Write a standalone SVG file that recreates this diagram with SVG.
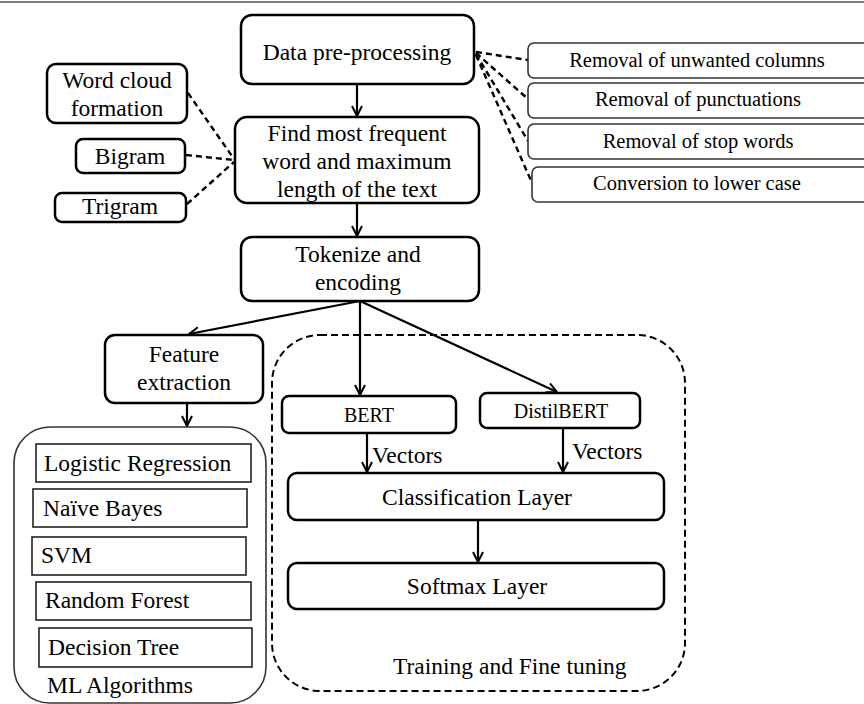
<svg xmlns="http://www.w3.org/2000/svg" width="864" height="704" viewBox="0 0 864 704">
<defs>
<style>
text{font-family:"Liberation Serif","Times New Roman",serif;fill:#000}
.t24{font-size:23.5px}
.t20{font-size:20px}
.t21{font-size:20.5px}
.mid{text-anchor:middle}
.box{fill:#fff;stroke:#000;stroke-width:2.5}
.rbox{fill:#fff;stroke:#333;stroke-width:1.6}
.ml{fill:#fff;stroke:#222;stroke-width:1.6}
.arrow{fill:none;stroke:#000;stroke-width:2.2;marker-end:url(#ah)}
.dash{fill:none;stroke:#000;stroke-width:2.4;stroke-dasharray:6 4}
</style>
<marker id="ah" viewBox="0 0 12 12" refX="11" refY="6" markerWidth="12" markerHeight="12" markerUnits="userSpaceOnUse" orient="auto">
<path d="M1,1 L11,6 L1,11" fill="none" stroke="#000" stroke-width="2"/>
</marker>
</defs>
<rect x="0" y="0" width="864" height="704" fill="#fff"/>
<line x1="0" y1="2" x2="864" y2="2" stroke="#555" stroke-width="1.6"/>

<g id="connectors">
<line class="arrow" x1="357" y1="84" x2="357" y2="116"/>
<line class="arrow" x1="357" y1="203" x2="357" y2="236"/>
<line class="arrow" x1="360" y1="301" x2="189" y2="334"/>
<line class="arrow" x1="360" y1="301" x2="360" y2="395"/>
<line class="arrow" x1="360" y1="301" x2="557" y2="392"/>
<line class="arrow" x1="187" y1="403" x2="187" y2="426"/>
<line class="arrow" x1="367" y1="433" x2="367" y2="472"/>
<line class="arrow" x1="563" y1="428" x2="563" y2="472"/>
<line class="arrow" x1="478" y1="520" x2="478" y2="562"/>
<line class="dash" x1="188" y1="93" x2="234" y2="159"/>
<line class="dash" x1="186" y1="155" x2="234" y2="160"/>
<line class="dash" x1="187" y1="204" x2="234" y2="162"/>
<line class="dash" x1="476" y1="52" x2="528" y2="60"/>
<line class="dash" x1="476" y1="53" x2="528" y2="99"/>
<line class="dash" x1="476" y1="54" x2="528" y2="141"/>
<line class="dash" x1="476" y1="55" x2="532" y2="183"/>
</g>

<g id="data-preprocessing">
<rect class="box" x="241" y="15" width="233" height="69" rx="11"/>
<text class="t24 mid" x="357" y="60">Data pre-processing</text>
</g>
<g id="find-frequent">
<rect class="box" x="235" y="117" width="244" height="86" rx="12"/>
<text class="t24 mid" x="357" y="141">Find most frequent</text>
<text class="t24 mid" x="357" y="169">word and maximum</text>
<text class="t24 mid" x="357" y="197">length of the text</text>
</g>
<g id="word-cloud">
<rect class="box" x="47" y="64" width="140" height="59" rx="9"/>
<text class="t24 mid" x="117" y="88">Word cloud</text>
<text class="t24 mid" x="117" y="116">formation</text>
</g>
<g id="bigram">
<rect class="box" x="76" y="139" width="109" height="34" rx="7"/>
<text class="t24 mid" x="130" y="164">Bigram</text>
</g>
<g id="trigram">
<rect class="box" x="55" y="193" width="131" height="29" rx="7"/>
<text class="t24 mid" x="120" y="214">Trigram</text>
</g>
<g id="removal-columns">
<rect class="rbox" x="528" y="43" width="360" height="35" rx="6"/>
<text class="t21 mid" x="697" y="67">Removal of unwanted columns</text>
</g>
<g id="removal-punctuations">
<rect class="rbox" x="528" y="83" width="360" height="35" rx="6"/>
<text class="t21 mid" x="698" y="106">Removal of punctuations</text>
</g>
<g id="removal-stopwords">
<rect class="rbox" x="528" y="124" width="360" height="35" rx="6"/>
<text class="t21 mid" x="698" y="148">Removal of stop words</text>
</g>
<g id="lower-case">
<rect class="rbox" x="532" y="167" width="360" height="35" rx="6"/>
<text class="t21 mid" x="697" y="190">Conversion to lower case</text>
</g>
<g id="tokenize">
<rect class="box" x="241" y="237" width="238" height="64" rx="11"/>
<text class="t24 mid" x="358" y="262">Tokenize and</text>
<text class="t24 mid" x="358" y="290">encoding</text>
</g>
<g id="feature-extraction">
<rect class="box" x="105" y="335" width="158" height="68" rx="10"/>
<text class="t24 mid" x="184" y="362">Feature</text>
<text class="t24 mid" x="184" y="390">extraction</text>
</g>
<g id="ml-algorithms">
<rect x="14" y="427" width="252" height="276" rx="36" fill="none" stroke="#333" stroke-width="1.6"/>
<rect class="ml" x="36" y="444" width="215" height="38"/>
<text class="t24" x="44" y="471">Logistic Regression</text>
<rect class="ml" x="33" y="489" width="214" height="38"/>
<text class="t24" x="43" y="516">Naïve Bayes</text>
<rect class="ml" x="32" y="537" width="214" height="38"/>
<text class="t24" x="41" y="563">SVM</text>
<rect class="ml" x="36" y="582" width="215" height="38"/>
<text class="t24" x="45" y="608">Random Forest</text>
<rect class="ml" x="39" y="628" width="213" height="39"/>
<text class="t24" x="48" y="655">Decision Tree</text>
<text class="t24" x="47" y="693">ML Algorithms</text>
</g>
<g id="training">
<rect x="272" y="335" width="413" height="356" rx="48" fill="none" stroke="#000" stroke-width="2" stroke-dasharray="7 4"/>
<text class="t24" x="393" y="674">Training and Fine tuning</text>
</g>
<g id="bert">
<rect class="box" x="282" y="396" width="174" height="37" rx="7"/>
<text class="t20 mid" x="369" y="422">BERT</text>
</g>
<g id="distilbert">
<rect class="box" x="480" y="393" width="160" height="35" rx="7"/>
<text class="t20 mid" x="561" y="418">DistilBERT</text>
</g>
<g id="vectors-labels">
<text class="t24" x="372" y="463">Vectors</text>
<text class="t24" x="572" y="459">Vectors</text>
</g>
<g id="classification-layer">
<rect class="box" x="288" y="473" width="376" height="47" rx="9"/>
<text class="t24 mid" x="477" y="505">Classification Layer</text>
</g>
<g id="softmax-layer">
<rect class="box" x="288" y="563" width="376" height="46" rx="9"/>
<text class="t24 mid" x="477" y="594">Softmax Layer</text>
</g>
</svg>
